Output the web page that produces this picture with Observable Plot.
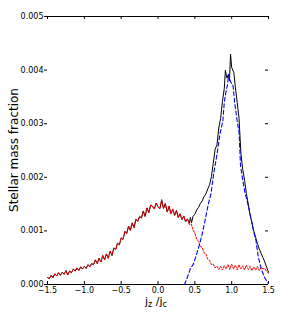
<!DOCTYPE html>
<html><head><meta charset="utf-8">
<script src="https://cdn.jsdelivr.net/npm/d3@7"></script>
<script src="https://cdn.jsdelivr.net/npm/@observablehq/plot@0.6"></script>
<style>body{margin:0;background:#fff}#chart svg{display:block}</style>
</head><body><div id="chart"></div>
<script>
// Spheroid (red) component, bins of 0.025 from -1.5 to 1.5
const binStart = -1.5, binStep = 0.025;
const spheroid = [
0.00013,0.00011,0.00017,0.00013,0.00020,0.00016,0.00022,0.00017,0.00023,0.00019,
0.00026,0.00018,0.00025,0.00022,0.00029,0.00025,0.00031,0.00026,0.00033,0.00029,
0.00034,0.00030,0.00037,0.00033,0.00039,0.00037,0.00046,0.00039,0.00049,0.00042,
0.00054,0.00046,0.00057,0.00049,0.00062,0.00054,0.00068,0.00065,0.00077,0.00074,
0.00087,0.00084,0.00099,0.00095,0.00109,0.00101,0.00115,0.00106,0.00122,0.00118,
0.00127,0.00124,0.00137,0.00127,0.00143,0.00134,0.00148,0.00146,0.00141,0.00152,
0.00145,0.00141,0.00158,0.00142,0.00151,0.00135,0.00146,0.00132,0.00141,0.00129,
0.00138,0.00125,0.00132,0.00121,0.00128,0.00117,0.00123,0.00112,0.00113,0.00102,
0.00096,0.00084,0.00081,0.00071,0.00069,0.00059,0.00057,0.00047,0.00045,0.00037,
0.00038,0.00031,0.00034,0.00028,0.00034,0.00027,0.00035,0.00029,0.00037,0.00028,
0.00038,0.00029,0.00036,0.00027,0.00037,0.00029,0.00035,0.00027,0.00036,0.00028,
0.00034,0.00026,0.00033,0.00027,0.00034,0.00026,0.00032,0.00029,0.00030,0.00024,
0.00021
];
// Total (black): equals spheroid below x=0.4, then these values
const totalX = [0.400,0.425,0.440,0.455,0.475,0.500,0.525,0.550,0.575,0.600,0.625,0.650,0.675,0.700,0.725,0.750,0.775,0.800,0.825,0.850,0.875,0.900,0.915,0.935,0.955,0.970,0.985,1.000,1.015,1.030,1.050,1.075,1.100,1.125,1.150,1.175,1.200,1.225,1.250,1.275,1.300,1.325,1.350,1.375,1.400,1.425,1.450,1.475,1.500];
const totalY = [0.00122,0.00114,0.00125,0.00115,0.00127,0.00131,0.00139,0.00144,0.00151,0.00156,0.00164,0.00169,0.00178,0.00186,0.00201,0.00226,0.00252,0.00260,0.00292,0.00310,0.00342,0.00366,0.00400,0.00385,0.00392,0.00380,0.00430,0.00405,0.00400,0.00395,0.00368,0.00340,0.00310,0.00245,0.00215,0.00195,0.00170,0.00150,0.00130,0.00115,0.00100,0.00088,0.00076,0.00066,0.00058,0.00050,0.00042,0.00032,0.00023];
// Disk (blue dashed)
const diskX = [0.36,0.40,0.44,0.48,0.52,0.56,0.60,0.64,0.68,0.72,0.76,0.80,0.84,0.88,0.90,0.92,0.94,0.96,0.98,1.00,1.02,1.04,1.06,1.08,1.10,1.12,1.15,1.18,1.22,1.26,1.30,1.33,1.36,1.40,1.44,1.48,1.50];
const diskY = [0,0.00014,0.00030,0.00038,0.00055,0.00073,0.00094,0.00120,0.00148,0.00170,0.00210,0.00242,0.00280,0.00305,0.00340,0.00358,0.00370,0.00392,0.00380,0.00375,0.00370,0.00340,0.00320,0.00300,0.00285,0.00222,0.00195,0.00172,0.00150,0.00125,0.00098,0.00082,0.00052,0.00030,0.00015,0.00005,0.00002];
const xTicks = [-1.5,-1.0,-0.5,0.0,0.5,1.0,1.5];
const yTicks = [0,0.001,0.002,0.003,0.004,0.005];

const sphData = spheroid.map((v,i)=>({x: binStart + i*binStep, y: v}));
const totData = sphData.filter(d=>d.x < 0.39).concat(totalX.map((x,i)=>({x, y: totalY[i]})));
const diskData = diskX.map((x,i)=>({x, y: diskY[i]}));

const W = 304, H = 313, mL = 47, mR = 36, mT = 16, mB = 29;
const pw = W - mL - mR, ph = H - mT - mB;

const chart = Plot.plot({
  width: W, height: H,
  marginLeft: mL, marginRight: mR, marginTop: mT, marginBottom: mB,
  style: {fontFamily: "DejaVu Sans", fontSize: "8px", background: "#fff", color: "#000"},
  x: {domain: [-1.5, 1.5]},
  y: {domain: [0, 0.005]},
  marks: [
    Plot.ruleY([0.005], {stroke: "#000", strokeWidth: 1}),
    Plot.ruleY([0], {stroke: "#000", strokeWidth: 1}),
    Plot.tickX(xTicks, {x: d=>d, insetBottom: ph - 3, stroke: "#000"}),
    Plot.tickX(xTicks, {x: d=>d, insetTop: ph - 3, stroke: "#000"}),
    Plot.tickY(yTicks, {y: d=>d, insetLeft: pw - 3, stroke: "#000"}),
    Plot.axisY({ticks: yTicks, tickFormat: d3.format(".3f"), tickSize: 3, tickPadding: 1, label: null}),
    Plot.axisX({ticks: xTicks, tickFormat: d => d3.format(".1f")(d), tickSize: 0, tickPadding: 3, label: null}),
    Plot.line(totData, {x: "x", y: "y", stroke: "#000", strokeWidth: 1}),
    Plot.line(sphData, {x: "x", y: "y", stroke: "#ff0000", strokeWidth: 1, strokeDasharray: "2,1.5"}),
    Plot.line(diskData, {x: "x", y: "y", stroke: "#0000ff", strokeWidth: 1.1, strokeDasharray: "4,2.5"})
  ]
});
document.getElementById("chart").appendChild(chart);
const svg = d3.select(chart);
svg.append("text")
  .attr("transform", "translate(14,150) rotate(-90)")
  .attr("text-anchor", "middle")
  .attr("dominant-baseline", "middle")
  .attr("font-family", "DejaVu Sans")
  .attr("font-size", 12)
  .attr("fill", "#000")
  .text("Stellar mass fraction");
const xl = svg.append("text")
  .attr("x", 156).attr("y", 305)
  .attr("text-anchor", "middle")
  .attr("font-family", "DejaVu Sans")
  .attr("font-size", 11)
  .attr("fill", "#000");
xl.append("tspan").text("j");
xl.append("tspan").attr("font-size", 8).attr("dy", 2).text("z");
xl.append("tspan").attr("dy", -2).text(" /j");
xl.append("tspan").attr("font-size", 8).attr("dy", 2).text("c");
</script>
</body></html>
